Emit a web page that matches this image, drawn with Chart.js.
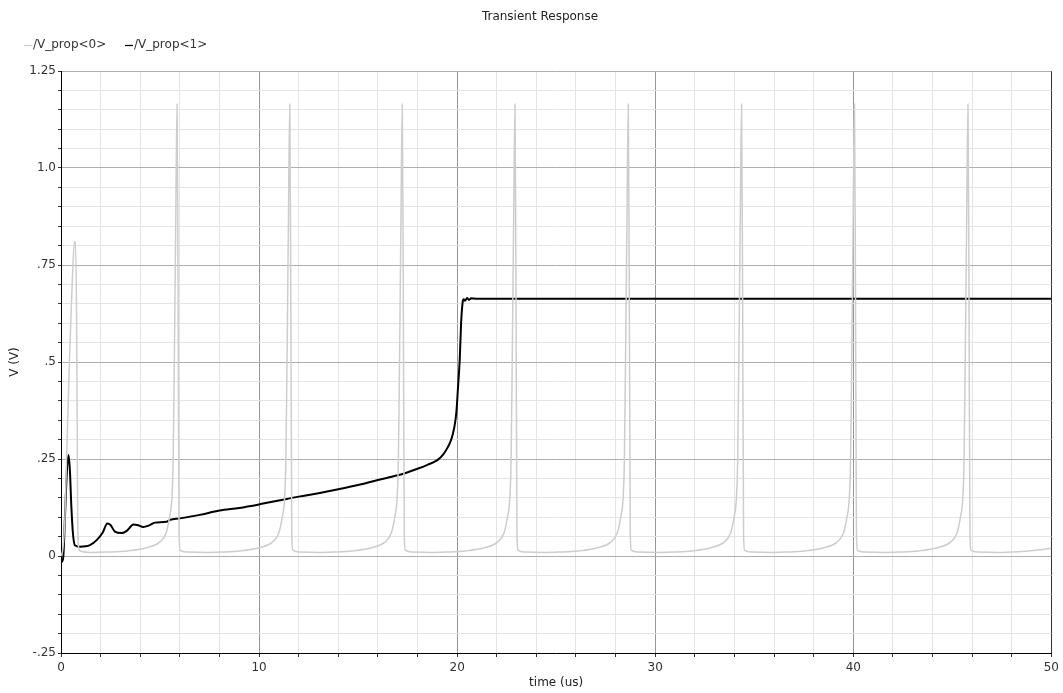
<!DOCTYPE html>
<html>
<head>
<meta charset="utf-8">
<script src="https://cdn.jsdelivr.net/npm/chart.js@4.4.1/dist/chart.umd.min.js"></script>
<style>
  html, body { margin: 0; padding: 0; background: #ffffff; }
  #wrap { width: 1063px; height: 693px; position: relative; }
</style>
</head>
<body>
<div id="wrap"><canvas id="c" width="1063" height="693"></canvas></div>
<script>
// ---------------- data ----------------
const chartTitle = "Transient Response";
const seriesNames = ["/V_prop<0>", "/V_prop<1>"];
const xAxisTitle = "time (us)";
const yAxisTitle = "V (V)";

const xTickValues = [0, 10, 20, 30, 40, 50];
const xTickLabels = ["0", "10", "20", "30", "40", "50"];
const yTickValues = [-0.25, 0, 0.25, 0.5, 0.75, 1.0, 1.25];
const yTickLabels = ["-.25", "0", ".25", ".5", ".75", "1.0", "1.25"];

// /V_prop<0> (grey, periodic spikes)
const v0Time = [
  0, 0.1, 0.2, 0.29, 0.45, 0.57, 0.68, 0.73, 0.79, 0.84, 0.88, 1.0, 1.5,
  2.36, 3.36, 4.36, 4.96, 5.31, 5.48, 5.60, 5.66, 5.71, 5.79, 5.86, 5.91, 5.96, 6.01, 6.36, 7.36,
  8.05, 9.05, 10.05, 10.65, 11.00, 11.17, 11.29, 11.35, 11.40, 11.48, 11.55, 11.60, 11.65, 11.70, 12.05, 13.05,
  13.73, 14.73, 15.73, 16.33, 16.68, 16.85, 16.97, 17.03, 17.08, 17.16, 17.23, 17.28, 17.33, 17.38, 17.73, 18.73,
  19.42, 20.42, 21.42, 22.02, 22.37, 22.54, 22.66, 22.72, 22.77, 22.85, 22.92, 22.97, 23.02, 23.07, 23.42, 24.42,
  25.14, 26.14, 27.14, 27.74, 28.09, 28.26, 28.38, 28.44, 28.49, 28.57, 28.64, 28.69, 28.74, 28.79, 29.14, 30.14,
  30.86, 31.86, 32.86, 33.46, 33.81, 33.98, 34.10, 34.16, 34.21, 34.29, 34.36, 34.41, 34.46, 34.51, 34.86, 35.86,
  36.56, 37.56, 38.56, 39.16, 39.51, 39.68, 39.80, 39.86, 39.91, 39.99, 40.06, 40.11, 40.16, 40.21, 40.56, 41.56,
  42.29, 43.29, 44.29, 44.89, 45.24, 45.41, 45.53, 45.59, 45.64, 45.72, 45.79, 45.84, 45.89, 45.94, 46.29, 47.29,
  48.3, 49.2, 50
];
const v0Volt = [
  0.0, 0.02, 0.1, 0.27, 0.54, 0.71, 0.81, 0.81, 0.6, 0.12, 0.025, 0.012, 0.009,
  0.010, 0.013, 0.022, 0.035, 0.06, 0.10, 0.15, 0.24, 0.45, 0.85, 1.165, 0.7, 0.06, 0.015, 0.010, 0.009,
  0.010, 0.013, 0.022, 0.035, 0.06, 0.10, 0.15, 0.24, 0.45, 0.85, 1.165, 0.7, 0.06, 0.015, 0.010, 0.009,
  0.010, 0.013, 0.022, 0.035, 0.06, 0.10, 0.15, 0.24, 0.45, 0.85, 1.165, 0.7, 0.06, 0.015, 0.010, 0.009,
  0.010, 0.013, 0.022, 0.035, 0.06, 0.10, 0.15, 0.24, 0.45, 0.85, 1.165, 0.7, 0.06, 0.015, 0.010, 0.009,
  0.010, 0.013, 0.022, 0.035, 0.06, 0.10, 0.15, 0.24, 0.45, 0.85, 1.165, 0.7, 0.06, 0.015, 0.010, 0.009,
  0.010, 0.013, 0.022, 0.035, 0.06, 0.10, 0.15, 0.24, 0.45, 0.85, 1.165, 0.7, 0.06, 0.015, 0.010, 0.009,
  0.010, 0.013, 0.022, 0.035, 0.06, 0.10, 0.15, 0.24, 0.45, 0.85, 1.165, 0.7, 0.06, 0.015, 0.010, 0.009,
  0.010, 0.013, 0.022, 0.035, 0.06, 0.10, 0.15, 0.24, 0.45, 0.85, 1.165, 0.7, 0.06, 0.015, 0.010, 0.009,
  0.011, 0.015, 0.02
];

// /V_prop<1> (black)
const v1Time = [
  0, 0.05, 0.12, 0.2, 0.3, 0.38, 0.45, 0.52, 0.6, 0.7, 0.96, 1.46, 1.8, 2.1, 2.34, 2.5, 2.72,
  3.06, 3.35, 3.65, 3.9, 4.15, 4.45, 4.74, 5.33, 5.5, 6.0, 7.0, 8.0, 9.0, 10.0, 11.0, 12.0,
  13.0, 14.0, 15.0, 16.0, 17.0, 18.0, 18.5, 19.0, 19.3, 19.5, 19.7, 19.85, 19.96, 20.05, 20.13,
  20.2, 20.28, 20.33, 20.4, 20.5, 20.6, 20.7, 21.0, 50
];
const v1Volt = [
  -0.01, -0.015, 0.0, 0.1, 0.22, 0.26, 0.22, 0.13, 0.06, 0.028, 0.024, 0.028, 0.041, 0.06, 0.084, 0.08, 0.063,
  0.059, 0.066, 0.081, 0.079, 0.075, 0.079, 0.086, 0.088, 0.093, 0.097, 0.106, 0.117, 0.124, 0.133, 0.143, 0.153,
  0.162, 0.172, 0.183, 0.196, 0.208, 0.225, 0.235, 0.247, 0.262, 0.278, 0.30, 0.33, 0.37, 0.44, 0.505,
  0.60, 0.655, 0.662, 0.658, 0.665, 0.660, 0.664, 0.663, 0.663
];

// ---------------- chart ----------------
const FONT = "'DejaVu Sans', Verdana, sans-serif";

function pts(ts, vs) { return ts.map((t, i) => ({ x: t, y: vs[i] })); }

function isMajor(v, step) {
  const r = v / step;
  return Math.abs(r - Math.round(r)) < 1e-6;
}

const headerPlugin = {
  id: 'header',
  afterDraw(chart) {
    const ctx = chart.ctx;
    ctx.save();
    ctx.fillStyle = '#222';
    ctx.font = '12px ' + FONT;
    ctx.textAlign = 'center';
    ctx.textBaseline = 'middle';
    ctx.fillText(chartTitle, 540, 17);
    // legend
    ctx.font = '12px ' + FONT;
    ctx.textAlign = 'left';
    const starts = [24, 125];
    chart.data.datasets.forEach((ds, i) => {
      const x = starts[i];
      ctx.strokeStyle = ds.borderColor;
      ctx.lineWidth = 1.2;
      ctx.beginPath();
      ctx.moveTo(x, 45.5);
      ctx.lineTo(x + 8, 45.5);
      ctx.stroke();
      ctx.fillStyle = '#333';
      ctx.fillText(ds.label, x + 9, 45);
    });
    ctx.restore();
  }
};

new Chart(document.getElementById('c'), {
  type: 'line',
  data: {
    datasets: [
      {
        label: seriesNames[0],
        data: pts(v0Time, v0Volt),
        borderColor: 'rgb(205,205,205)',
        borderWidth: 1.5,
        pointRadius: 0,
        cubicInterpolationMode: 'monotone',
        fill: false
      },
      {
        label: seriesNames[1],
        data: pts(v1Time, v1Volt),
        borderColor: '#000000',
        borderWidth: 2,
        pointRadius: 0,
        cubicInterpolationMode: 'monotone',
        fill: false
      }
    ]
  },
  options: {
    responsive: false,
    animation: false,
    devicePixelRatio: 1,
    layout: { padding: { left: 0, right: 11, top: 71, bottom: 0 } },
    plugins: {
      legend: { display: false },
      title: { display: false },
      tooltip: { enabled: false }
    },
    scales: {
      x: {
        type: 'linear',
        min: 0, max: 50,
        afterFit(scale) { scale.height = 40; },
        border: { color: '#000', width: 1 },
        grid: {
          color(c) {
            const v = c.tick.value;
            if (Math.abs(v - 50) < 1e-6) return '#333';
            return isMajor(v, 10) ? 'rgb(150,150,150)' : 'rgb(228,228,228)';
          },
          lineWidth: 1,
          tickLength: 4,
          tickColor: '#333'
        },
        ticks: {
          stepSize: 2,
          autoSkip: false,
          maxRotation: 0,
          padding: 4,
          color: '#333',
          font: { family: FONT, size: 12 },
          callback(v) {
            const i = xTickValues.findIndex(t => Math.abs(t - v) < 1e-6);
            return i >= 0 ? xTickLabels[i] : '';
          }
        },
        title: {
          display: true,
          text: xAxisTitle,
          color: '#222',
          font: { family: FONT, size: 12 },
          padding: { top: 0, bottom: 3 }
        }
      },
      y: {
        type: 'linear',
        min: -0.25, max: 1.25,
        afterFit(scale) { scale.width = 61; },
        border: { color: '#000', width: 1 },
        grid: {
          color(c) {
            const v = c.tick.value;
            return isMajor(v, 0.25) ? 'rgb(175,175,175)' : 'rgb(228,228,228)';
          },
          lineWidth: 1,
          tickLength: 3,
          tickColor: '#333'
        },
        ticks: {
          stepSize: 0.05,
          autoSkip: false,
          padding: 2,
          color: '#333',
          font: { family: FONT, size: 12 },
          callback(v) {
            const i = yTickValues.findIndex(t => Math.abs(t - v) < 1e-6);
            return i >= 0 ? yTickLabels[i] : '';
          }
        },
        title: {
          display: true,
          text: yAxisTitle,
          color: '#222',
          font: { family: FONT, size: 12 },
          padding: { top: 8, bottom: 0 }
        }
      }
    }
  },
  plugins: [headerPlugin]
});
</script>
</body>
</html>
